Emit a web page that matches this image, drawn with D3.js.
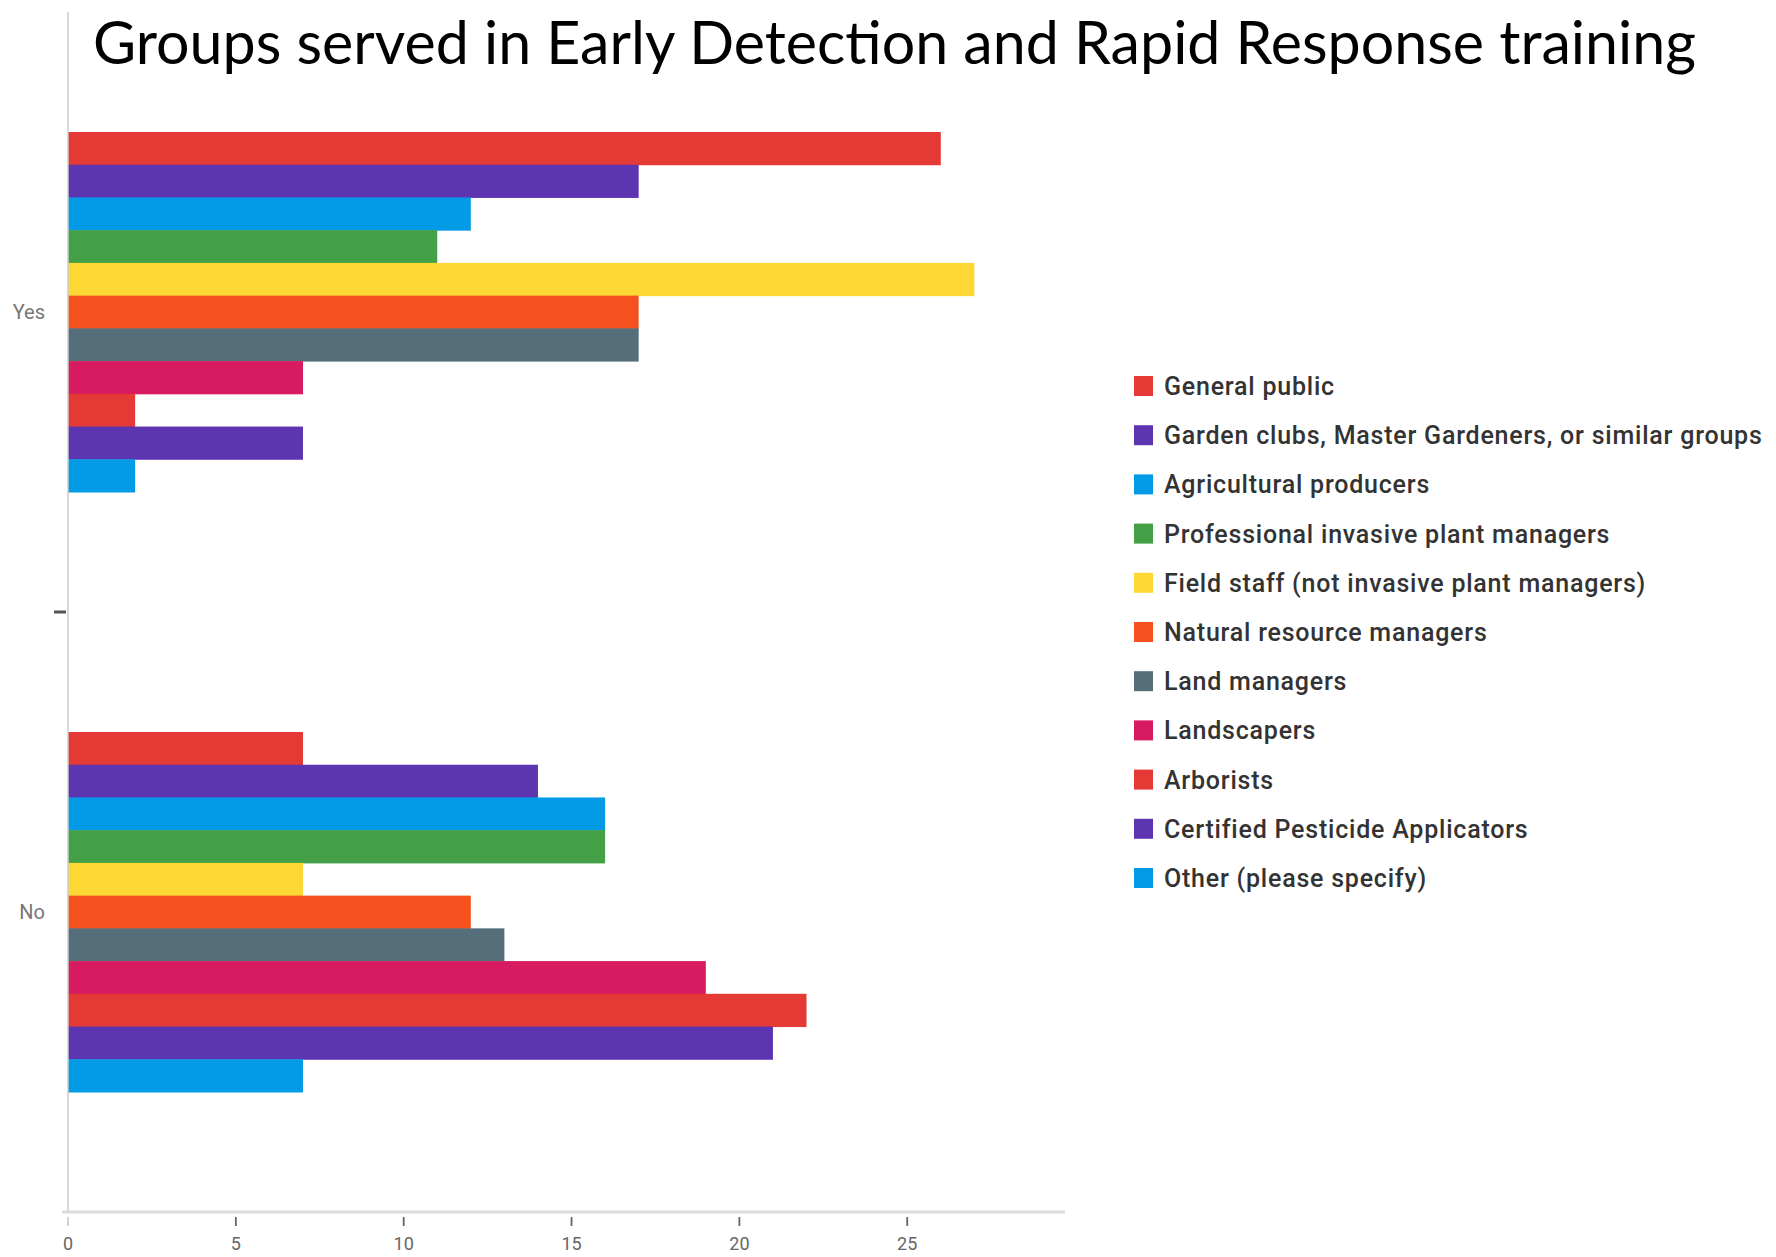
<!DOCTYPE html>
<html>
<head>
<meta charset="utf-8">
<script src="https://cdn.jsdelivr.net/npm/d3@7"></script>
<style>
html,body{margin:0;padding:0;background:#fff;}
svg{display:block;}
</style>
</head>
<body>
<svg id="chart" width="1776" height="1257"></svg>
<script>
const title = "Groups served in Early Detection and Rapid Response training";
const categories = ["Yes", "No"];
const seriesNames = [
  "General public",
  "Garden clubs, Master Gardeners, or similar groups",
  "Agricultural producers",
  "Professional invasive plant managers",
  "Field staff (not invasive plant managers)",
  "Natural resource managers",
  "Land managers",
  "Landscapers",
  "Arborists",
  "Certified Pesticide Applicators",
  "Other (please specify)"
];
const seriesColors = ["#e53935","#5e35b1","#039be5","#43a047","#fdd835","#f4511e","#546e7a","#d81b60","#e53935","#5e35b1","#039be5"];
const yesValues = [26, 17, 12, 11, 27, 17, 17, 7, 2, 7, 2];
const noValues  = [7, 14, 16, 16, 7, 12, 13, 19, 22, 21, 7];
const xTicks = [0, 5, 10, 15, 20, 25];

const valuesByCategory = {Yes: yesValues, No: noValues};

const svg = d3.select("#chart");

const x = d3.scaleLinear().domain([0, 29.7]).range([68, 1065]);
const y0 = d3.scaleBand().domain(categories).range([12, 1212]).paddingInner(0).paddingOuter(0);
const y1 = d3.scaleBand().domain(seriesNames).range([0, y0.bandwidth()]).paddingInner(0).paddingOuter(3.667);
const color = d3.scaleOrdinal().domain(d3.range(seriesNames.length)).range(seriesColors);

// title
svg.append("text")
  .attr("x", 93).attr("y", 64)
  .attr("textLength", 1603).attr("lengthAdjust", "spacingAndGlyphs")
  .style("font-family", "Lato, 'Open Sans', sans-serif")
  .style("font-size", "60px")
  .style("fill", "#000")
  .text(title);

// bars
const groups = svg.selectAll("g.cat").data(categories).enter().append("g")
  .attr("class", "cat")
  .attr("transform", d => `translate(0,${y0(d)})`);
groups.selectAll("rect").data(c => valuesByCategory[c].map((v, i) => ({name: seriesNames[i], i, v})))
  .enter().append("rect")
  .attr("x", x(0))
  .attr("y", d => y1(d.name))
  .attr("width", d => x(d.v) - x(0))
  .attr("height", y1.bandwidth() + 0.5)
  .attr("fill", d => color(d.i));

// x axis
const xAxis = svg.append("g").attr("transform", `translate(0,${y0.range()[1]})`);
xAxis.append("line")
  .attr("x1", 62).attr("x2", x.range()[1])
  .attr("y1", 0).attr("y2", 0)
  .attr("stroke", "#dcdcdc").attr("stroke-width", 3);
const xt = xAxis.selectAll("g.tick").data(xTicks).enter().append("g")
  .attr("transform", d => `translate(${x(d)},0)`);
xt.append("line").attr("y1", 5).attr("y2", 14).attr("stroke", d => d === 0 ? "#cfcfcf" : "#666").attr("stroke-width", 1.8);
xt.append("text").attr("y", 38).attr("text-anchor", "middle")
  .style("font-family", "Roboto, sans-serif").style("font-size", "18px").style("fill", "#666")
  .text(d => d);

// y axis
svg.append("line")
  .attr("x1", x(0)).attr("x2", x(0))
  .attr("y1", y0.range()[0]).attr("y2", y0.range()[1])
  .attr("stroke", "#cccccc").attr("stroke-width", 1.5);
// separator tick between categories
svg.append("line")
  .attr("x1", 54).attr("x2", 66)
  .attr("y1", y0("No")).attr("y2", y0("No"))
  .attr("stroke", "#555").attr("stroke-width", 3);
svg.selectAll("text.ylab").data(categories).enter().append("text")
  .attr("class", "ylab")
  .attr("x", 45).attr("y", d => y0(d) + y0.bandwidth() / 2 + 7)
  .attr("text-anchor", "end")
  .style("font-family", "Roboto, sans-serif").style("font-size", "20px").style("fill", "#777")
  .text(d => d);

// legend
const legend = svg.append("g").attr("transform", "translate(1134,386)");
const li = legend.selectAll("g").data(seriesNames).enter().append("g")
  .attr("transform", (d, i) => `translate(0,${i * 49.2})`);
li.append("rect").attr("x", 0).attr("y", -10).attr("width", 19).attr("height", 20)
  .attr("fill", (d, i) => color(i));
li.append("text").attr("x", 30).attr("y", 9)
  .style("font-family", "Roboto, sans-serif").style("font-size", "25px").style("font-weight", "500")
  .style("letter-spacing", "0.78px").style("fill", "#333")
  .text(d => d);
</script>
</body>
</html>
